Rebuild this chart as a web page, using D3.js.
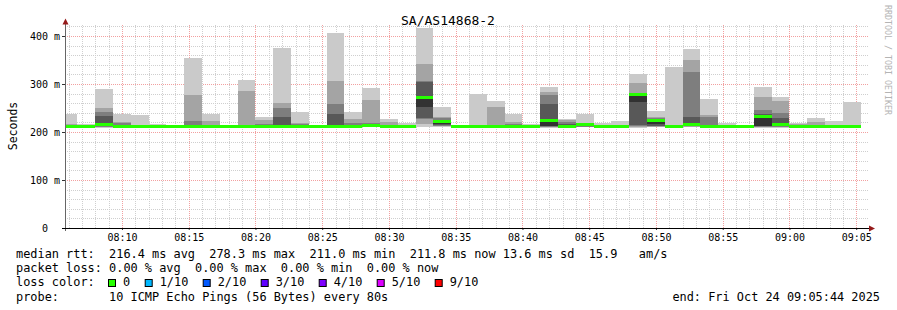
<!DOCTYPE html>
<meta charset="utf-8">
<style>
body { margin: 0; background: #fff; }
svg { display: block; }
text { font-family: "DejaVu Sans Mono", monospace; fill: #000; }
.axis text { font-size: 10px; }
.axis .domain { display: none; }
.grid line { shape-rendering: crispEdges; stroke-dasharray: 1,1; }
.grid .domain { display: none; }
.minor line { stroke: #cfcfcf; }
.major line { stroke: #f2a0a0; }
.legend text { font-size: 11.9px; white-space: pre; }
.smoke rect, .median rect { shape-rendering: crispEdges; }
</style>
<body>
<script src="https://cdn.jsdelivr.net/npm/d3@7/dist/d3.min.js"></script>
<script>

var width = 897,
    height = 310;

var title = "SA/AS14868-2";
var tStart = new Date(2025, 9, 24, 8, 5, 44);   // left edge of graph
var tEnd = new Date(2025, 9, 24, 9, 5, 44);     // right edge ("end:" in legend)
var firstStep = new Date(2025, 9, 24, 8, 5, 20);
var stepSec = 80;

// 10 sorted ping times (ms) per 80s step
var pings = [
  [209.5, 210, 210.5, 211, 211.5, 212.5, 213, 214, 216, 238],
  [209.5, 210, 210.5, 211, 211.5, 212.5, 213, 213.5, 214, 217],
  [209, 210, 211, 212, 214, 216, 233, 242, 250, 290],
  [209.5, 210, 210.5, 211, 211.5, 212.5, 214, 218, 221, 238],
  [209.5, 210, 210.5, 211, 211.5, 212.5, 213, 214, 215, 236],
  [208, 208.5, 209, 209.5, 210, 210.5, 211, 212, 213, 217],
  [209.5, 210, 210.5, 211, 211.5, 212.5, 213, 213.5, 214, 215],
  [209.5, 210, 210.5, 211, 211.5, 212.5, 215, 223, 277, 354],
  [208, 208.5, 209, 209.5, 210, 210.5, 212, 214, 223, 238],
  [209.5, 210, 210.5, 211, 211.5, 212.5, 213, 213.5, 214, 215],
  [209.5, 210, 210.5, 211, 211.5, 212.5, 213, 215, 285, 308],
  [209.5, 210, 210.5, 211, 211.5, 212.5, 214, 216, 225, 231],
  [209.5, 210, 210.5, 211, 211.5, 212.5, 231, 250, 260, 375],
  [209.5, 210, 210.5, 211, 211.5, 212.5, 214, 216, 218, 242],
  [208, 208.5, 209, 209.5, 210, 210.5, 211, 212, 212.5, 213],
  [209, 210, 210.5, 211, 211.5, 212.5, 237, 258, 306, 406],
  [209.5, 210, 210.5, 211, 211.5, 212.5, 215, 218, 227, 242],
  [209.5, 210, 211, 212, 213, 214, 216, 218, 267, 292],
  [209.5, 210, 210.5, 211, 211.5, 212.5, 213, 215, 221, 227],
  [208, 208.5, 209, 209.5, 210, 210.5, 211, 212, 213, 219],
  [211, 217, 228, 228.5, 253, 271.5, 304, 306, 342, 417],
  [210, 212, 213.5, 215, 217.5, 221, 226, 229, 232, 252],
  [209.5, 210, 210.5, 211, 211.5, 212.5, 213, 213.5, 214, 215],
  [208, 208.5, 209, 209.5, 210, 210.5, 211, 212, 213, 279],
  [209.5, 210, 210.5, 211, 211.5, 212.5, 213, 215, 252, 265],
  [209.5, 210, 210.5, 211, 211.5, 212.5, 214, 216, 221, 238],
  [208, 208.5, 209, 209.5, 210, 210.5, 211, 212, 213, 217],
  [209, 210, 211, 212, 213, 225, 258, 277, 284, 294],
  [209, 210, 210.5, 211, 211.5, 212.5, 216, 221, 225, 227],
  [210, 210.5, 211, 212, 213, 214.6, 215.5, 216, 217, 237.5],
  [209.5, 210, 210.5, 211, 211.5, 212.5, 213, 214, 215, 219],
  [208, 208.5, 209, 209.5, 210, 210.5, 211, 212, 214, 223],
  [209, 210, 212, 214.6, 262.5, 278.3, 279, 280, 301.4, 320.8],
  [210, 211, 212, 213, 216, 223, 226, 229, 231.5, 243.8],
  [208, 208.5, 209, 209.5, 210, 210.5, 211, 213, 215, 335],
  [210, 211, 212, 213, 214, 216, 231, 325, 350, 373],
  [209.5, 210, 210.5, 211, 211.5, 212.5, 214, 232, 235.4, 268.8],
  [208, 208.5, 209, 209.5, 210, 210.5, 211, 212, 213, 218.8],
  [209.5, 210, 210.5, 211, 211.5, 212.5, 213, 213.5, 214, 215],
  [209, 210, 211, 212, 213, 233.3, 236.8, 245.8, 272.9, 293.8],
  [209, 210, 211, 212, 213, 214.6, 230, 239.6, 264.6, 272.9],
  [209.5, 210, 210.5, 211, 211.5, 212.5, 213, 214, 216, 218.8],
  [209.5, 210, 210.5, 211, 211.5, 212.5, 213, 215, 220, 229.9],
  [208, 208.5, 209, 209.5, 210, 210.5, 211, 212, 214, 222.9],
  [209.5, 210, 210.5, 211, 211.5, 212.5, 213, 214, 215.3, 263]
];

// lost pings out of 10, per step
var lossCount = [0,0,0,0,0,0,0,0,0,0,0,0,0,0,0,0,0,0,0,0,0,0,0,
                 0,0,0,0,0,0,0,0,0,0,0,0,0,0,0,0,0,0,0,0,0,0];

var yTicks = [0, 100, 200, 300, 400];
var lossLabels = ["0", "1/10", "2/10", "3/10", "4/10", "5/10", "9/10"];
var lossLimits = [0, 1, 2, 3, 4, 5, 9];
var lossColors = ["#26ff00", "#00b8ff", "#0059ff", "#5e00ff", "#7e00ff", "#dd00ff", "#ff0000"];

var legendLines = [
  "median rtt:  216.4 ms avg  278.3 ms max  211.0 ms min  211.8 ms now 13.6 ms sd  15.9   am/s",
  "packet loss: 0.00 % avg  0.00 % max  0.00 % min  0.00 % now"
];
var probeText = "probe:       10 ICMP Echo Pings (56 Bytes) every 80s";
var endText = "end: Fri Oct 24 09:05:44 2025";

var svg = d3.select("body").append("svg")
    .attr("width", width)
    .attr("height", height);

svg.append("rect").attr("width", width).attr("height", height).attr("fill", "#fff");

var x = d3.scaleTime().domain([tStart, tEnd]).range([65, 866]);
var y = d3.scaleLinear().domain([0, 425]).range([228, 24]);

var plotLeft = 65, plotRight = 869, plotTop = 24, plotBottom = 228;

// grid: minor every minute / 20 ms, major every 5 min / 100 ms
var minutes = d3.timeMinute.range(d3.timeMinute.ceil(tStart), tEnd);
var minorX = minutes.filter(function(d) { return d.getMinutes() % 5 != 0; });
var majorX = minutes.filter(function(d) { return d.getMinutes() % 5 == 0; });
var minorY = d3.range(20, 425, 20).filter(function(v) { return v % 100 != 0; });
var majorY = yTicks.filter(function(v) { return v > 0; });

function vgrid(vals, cls) {
  svg.append("g").attr("class", "grid " + cls)
      .attr("transform", "translate(0," + plotBottom + ")")
      .call(d3.axisBottom(x).tickValues(vals).tickSize(-(plotBottom - plotTop)).tickFormat(""));
}
function hgrid(vals, cls) {
  svg.append("g").attr("class", "grid " + cls)
      .attr("transform", "translate(" + plotLeft + ",0)")
      .call(d3.axisRight(y).tickValues(vals).tickSize(plotRight - plotLeft).tickFormat(""));
}
vgrid(minorX, "minor");
hgrid(minorY, "minor");
vgrid(majorX, "major");
hgrid(majorY, "major");

// smoke + median per step
var steps = pings.map(function(p, i) {
  var t0 = new Date(firstStep.getTime() + i * stepSec * 1000);
  return {t0: t0, t1: new Date(t0.getTime() + stepSec * 1000), p: p, loss: lossCount[i]};
});

svg.append("clipPath").attr("id", "plot-clip")
  .append("rect")
    .attr("x", plotLeft + 1).attr("y", 0)
    .attr("width", 866 - plotLeft - 1).attr("height", plotBottom);

var plot = svg.append("g").attr("clip-path", "url(#plot-clip)");

// smokeping colours: outer pair lightest, inner pair darkest
var half = 5;
function greyFor(i) {
  var c = Math.floor(190 / half * (half - 1 - i)) + 50;
  return d3.rgb(c, c, c).toString();
}

var smoke = plot.append("g").attr("class", "smoke");
d3.range(half).forEach(function(i) {
  smoke.selectAll("rect.s" + i)
    .data(steps)
    .enter().append("rect")
      .attr("class", "s" + i)
      .attr("x", function(d) { return x(d.t0); })
      .attr("width", function(d) { return x(d.t1) - x(d.t0); })
      .attr("y", function(d) { return y(d.p[9 - i]); })
      .attr("height", function(d) { return y(d.p[i]) - y(d.p[9 - i]); })
      .attr("fill", greyFor(i));
});

function lossColor(n) {
  var idx = 0;
  lossLimits.forEach(function(l, i) { if (n >= l) idx = i; });
  return lossColors[idx];
}

plot.append("g").attr("class", "median")
  .selectAll("rect")
  .data(steps)
  .enter().append("rect")
    .attr("x", function(d) { return x(d.t0); })
    .attr("width", function(d) { return x(d.t1) - x(d.t0); })
    .attr("y", function(d) { return y(d.p[5]) - 1.5; })
    .attr("height", 3)
    .attr("fill", function(d) { return lossColor(d.loss); });

// axes
var yAxis = svg.append("g").attr("class", "axis")
    .attr("transform", "translate(" + plotLeft + ",0)")
    .call(d3.axisLeft(y).tickValues(yTicks).tickSize(3).tickPadding(2)
      .tickFormat(function(v) { return v == 0 ? "0" : v + " m"; }));
yAxis.selectAll(".tick line").attr("stroke", "#333");
yAxis.selectAll(".tick text")
    .attr("dx", function(v) { return v == 0 ? -12 : 0; })
    .attr("dy", "0.35em");

var xAxis = svg.append("g").attr("class", "axis")
    .attr("transform", "translate(0," + plotBottom + ")")
    .call(d3.axisBottom(x).tickValues(majorX).tickSize(2).tickPadding(4)
      .tickFormat(d3.timeFormat("%H:%M")));
xAxis.selectAll(".tick line").attr("stroke", "#333");

svg.append("line")
    .attr("x1", plotLeft + 0.5).attr("x2", plotLeft + 0.5)
    .attr("y1", plotBottom + 3).attr("y2", 22)
    .attr("stroke", "#666");
svg.append("line")
    .attr("x1", plotLeft - 3).attr("x2", 871)
    .attr("y1", plotBottom + 0.5).attr("y2", plotBottom + 0.5)
    .attr("stroke", "#000");
svg.append("path")
    .attr("d", "M62.5,24.5L65.5,18.5L68.5,24.5Z")
    .attr("fill", "#951a1a");
svg.append("path")
    .attr("d", "M869,225.5L875,228.5L869,231.5Z")
    .attr("fill", "#951a1a");

// titles
svg.append("text")
    .attr("x", 448).attr("y", 25)
    .attr("text-anchor", "middle")
    .style("font-size", "13px")
    .text(title);

svg.append("text")
    .attr("transform", "translate(17,126) rotate(-90)")
    .attr("text-anchor", "middle")
    .style("font-size", "11.5px")
    .text("Seconds");

svg.append("text")
    .attr("transform", "translate(885,5) rotate(90)")
    .style("font-size", "8.3px")
    .style("fill", "#b4b4b4")
    .text("RRDTOOL / TOBI OETIKER");

// legend
var legend = svg.append("g").attr("class", "legend");
function legendText(xp, yp, s) {
  return legend.append("text")
      .attr("x", xp).attr("y", yp)
      .attr("xml:space", "preserve")
      .style("white-space", "pre")
      .text(s);
}
legendLines.forEach(function(line, i) {
  legendText(16, 257.7 + i * 14.3, line);
});

legendText(16, 286.3, "loss color:");
var lx = 108;
lossLabels.forEach(function(lbl, i) {
  legend.append("rect")
      .attr("x", lx + 0.5).attr("y", 279.5)
      .attr("width", 7).attr("height", 7)
      .attr("fill", lossColors[i])
      .attr("stroke", "#000");
  legendText(lx + 15, 286.3, lbl);
  lx += 15 + lbl.length * 7.1 + 14.6;
});

legendText(16, 300.6, probeText);
legendText(880, 300.6, endText).attr("text-anchor", "end");

</script>
